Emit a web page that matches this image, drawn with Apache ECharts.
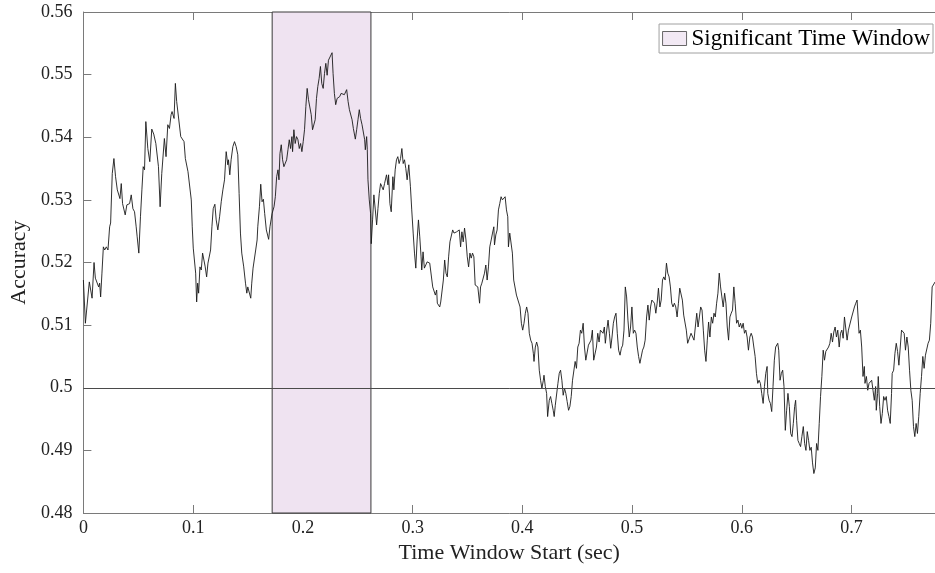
<!DOCTYPE html>
<html>
<head>
<meta charset="utf-8">
<script src="https://cdn.jsdelivr.net/npm/echarts@6/dist/echarts.min.js"></script>
<style>
html,body{margin:0;padding:0;background:#fff;}
#chart{width:935px;height:573px;}
</style>
</head>
<body>
<div id="chart"></div>
<script>
// Time window start (sec)
const timeSec = [
0.0000,0.0018,0.0036,0.0054,0.0067,0.0079,0.0097,0.0109,0.0127,0.0139,0.0148,0.0157,0.0169,0.0182,0.0194,0.0209,0.0224,0.0239,0.0248,0.0263,0.0278,0.0293,0.0309,0.0321,0.0333,0.0345,0.0357,0.0381,0.0396,0.0421,0.0436,0.0451,0.0466,0.0481,0.0490,0.0505,0.0520,0.0533,0.0545,0.0557,0.0569,0.0587,0.0605,0.0623,0.0641,0.0660,0.0672,0.0684,0.0699,0.0714,0.0726,0.0738,0.0753,0.0769,0.0784,0.0799,
0.0808,0.0826,0.0838,0.0850,0.0868,0.0887,0.0899,0.0917,0.0929,0.0941,0.0953,0.0971,0.0983,0.0992,0.1001,0.1014,0.1023,0.1032,0.1041,0.1050,0.1062,0.1074,0.1086,0.1098,0.1110,0.1123,0.1135,0.1147,0.1159,0.1171,0.1183,0.1198,0.1210,0.1225,0.1241,0.1256,0.1271,0.1286,0.1301,0.1316,0.1322,0.1334,0.1346,0.1362,0.1377,0.1392,0.1407,0.1419,0.1431,0.1443,0.1461,0.1477,0.1489,0.1498,0.1510,0.1525,0.1534,0.1546,0.1558,0.1570,0.1583,0.1589,
0.1604,0.1616,0.1628,0.1640,0.1652,0.1667,0.1676,0.1688,0.1700,0.1719,0.1737,0.1749,0.1761,0.1773,0.1782,0.1791,0.1803,0.1815,0.1827,0.1840,0.1852,0.1864,0.1876,0.1888,0.1900,0.1906,0.1918,0.1930,0.1942,0.1955,0.1967,0.1979,0.1991,0.2003,0.2015,0.2027,0.2039,0.2051,0.2064,0.2076,0.2088,0.2100,0.2112,0.2124,0.2136,0.2148,0.2160,0.2172,0.2185,0.2197,0.2209,0.2221,0.2233,0.2251,0.2266,0.2275,0.2287,0.2299,0.2312,0.2324,0.2336,0.2348,0.2366,0.2378,
0.2399,0.2412,0.2424,0.2436,0.2448,0.2460,0.2466,0.2478,0.2490,0.2502,0.2514,0.2526,0.2539,0.2551,0.2563,0.2569,0.2581,0.2587,0.2593,0.2605,0.2617,0.2623,0.2635,0.2647,0.2660,0.2672,0.2684,0.2696,0.2708,0.2720,0.2732,0.2744,0.2762,0.2775,0.2781,0.2793,0.2805,0.2820,0.2829,0.2841,0.2853,0.2865,0.2877,0.2890,0.2902,0.2914,0.2926,0.2938,0.2950,0.2965,0.2980,0.2992,0.3005,0.3017,0.3029,0.3041,0.3053,0.3065,0.3077,0.3083,0.3095,0.3107,0.3120,0.3132,0.3144,0.3156,0.3168,
0.3183,0.3195,0.3207,0.3219,0.3225,0.3237,0.3247,0.3256,0.3268,0.3280,0.3292,0.3304,0.3316,0.3328,0.3340,0.3352,0.3365,0.3377,0.3389,0.3401,0.3413,0.3425,0.3437,0.3449,0.3461,0.3473,0.3486,0.3498,0.3510,0.3522,0.3534,0.3546,0.3558,0.3570,0.3582,0.3594,0.3610,0.3619,0.3631,0.3643,0.3655,0.3667,0.3679,0.3691,0.3703,0.3716,0.3728,0.3740,0.3746,0.3758,0.3770,0.3782,0.3794,0.3806,0.3818,0.3831,0.3843,0.3855,0.3867,0.3873,0.3885,0.3897,0.3909,0.3921,0.3933,0.3946,0.3958,
0.3979,0.3991,0.4003,0.4015,0.4027,0.4039,0.4051,0.4063,0.4076,0.4088,0.4100,0.4106,0.4118,0.4130,0.4142,0.4154,0.4166,0.4178,0.4191,0.4197,0.4209,0.4221,0.4230,0.4245,0.4257,0.4269,0.4281,0.4290,0.4300,0.4312,0.4324,0.4336,0.4348,0.4360,0.4372,0.4384,0.4396,0.4408,0.4421,0.4433,0.4445,0.4457,0.4469,0.4481,0.4493,0.4505,0.4517,0.4529,0.4541,0.4554,0.4566,0.4578,0.4590,0.4602,0.4614,0.4626,0.4638,0.4650,0.4662,0.4675,0.4687,0.4699,0.4711,0.4723,0.4735,0.4747,
0.4756,0.4769,0.4781,0.4793,0.4805,0.4817,0.4829,0.4841,0.4853,0.4865,0.4877,0.4890,0.4902,0.4914,0.4926,0.4938,0.4950,0.4962,0.4974,0.4986,0.4998,0.5011,0.5023,0.5035,0.5047,0.5059,0.5071,0.5083,0.5095,0.5107,0.5119,0.5132,0.5144,0.5156,0.5168,0.5180,0.5192,0.5204,0.5216,0.5228,0.5240,0.5253,0.5265,0.5277,0.5289,0.5301,0.5313,0.5325,0.5337,0.5349,0.5361,0.5373,0.5385,0.5398,0.5410,0.5422,0.5434,0.5446,0.5458,0.5470,0.5482,0.5494,0.5506,0.5519,0.5537,
0.5546,0.5564,0.5576,0.5589,0.5601,0.5613,0.5625,0.5637,0.5649,0.5661,0.5673,0.5685,0.5697,0.5709,0.5722,0.5734,0.5746,0.5758,0.5770,0.5782,0.5794,0.5806,0.5818,0.5830,0.5843,0.5855,0.5867,0.5879,0.5891,0.5903,0.5915,0.5927,0.5939,0.5952,0.5964,0.5976,0.5988,0.6000,0.6012,0.6024,0.6036,0.6048,0.6060,0.6073,0.6085,0.6097,0.6109,0.6121,0.6133,0.6145,0.6157,0.6169,0.6181,0.6194,0.6206,0.6218,0.6230,0.6236,0.6248,0.6260,0.6272,0.6284,0.6296,0.6308,0.6327,
0.6336,0.6348,0.6360,0.6372,0.6384,0.6396,0.6408,0.6420,0.6433,0.6445,0.6457,0.6469,0.6481,0.6490,0.6499,0.6511,0.6523,0.6535,0.6547,0.6560,0.6572,0.6584,0.6596,0.6608,0.6620,0.6632,0.6644,0.6656,0.6669,0.6681,0.6693,0.6705,0.6717,0.6729,0.6741,0.6753,0.6765,0.6778,0.6790,0.6802,0.6814,0.6826,0.6838,0.6850,0.6862,0.6874,0.6887,0.6899,0.6911,0.6923,0.6935,0.6947,0.6959,0.6971,0.6983,
0.7001,0.7013,0.7026,0.7038,0.7050,0.7059,0.7068,0.7080,0.7092,0.7104,0.7116,0.7122,0.7135,0.7147,0.7159,0.7171,0.7183,0.7195,0.7207,0.7219,0.7225,0.7237,0.7243,0.7256,0.7268,0.7280,0.7292,0.7304,0.7316,0.7328,0.7340,0.7352,0.7364,0.7370,0.7383,0.7395,0.7407,0.7419,0.7431,0.7443,0.7455,0.7467,0.7479,0.7491,0.7504,0.7516,0.7528,0.7540,0.7552,0.7564,0.7576,0.7588,0.7600,0.7612,0.7625,0.7637,0.7649,0.7661,0.7673,0.7685,0.7697,0.7709,0.7721,0.7734,0.7746,0.7761
];
// Decoding accuracy
const accuracy = [
0.5172,0.5103,0.5100,0.5169,0.5172,0.5143,0.5200,0.5175,0.5177,0.5161,0.5167,0.5145,0.5183,0.5225,0.5220,0.5225,0.5220,0.5257,0.5263,0.5342,0.5366,0.5337,0.5316,0.5313,0.5302,0.5326,0.5294,0.5276,0.5292,0.5294,0.5308,0.5286,0.5281,0.5257,0.5241,0.5215,0.5273,0.5316,0.5353,0.5348,0.5425,0.5382,0.5361,0.5413,0.5405,0.5390,0.5393,0.5353,0.5289,0.5342,0.5342,0.5398,0.5369,0.5420,0.5414,0.5436,
0.5441,0.5430,0.5486,0.5457,0.5460,0.5401,0.5404,0.5393,0.5366,0.5364,0.5345,0.5342,0.5300,0.5257,0.5223,0.5220,0.5183,0.5137,0.5167,0.5151,0.5193,0.5188,0.5215,0.5215,0.5193,0.5177,0.5199,0.5201,0.5220,0.5257,0.5286,0.5293,0.5268,0.5252,0.5273,0.5297,0.5316,0.5332,0.5377,0.5356,0.5364,0.5340,0.5364,0.5385,0.5393,0.5385,0.5372,0.5310,0.5247,0.5215,0.5193,0.5167,0.5151,0.5161,0.5159,0.5143,0.5167,0.5191,0.5193,0.5220,0.5236,0.5257,
0.5289,0.5325,0.5297,0.5301,0.5278,0.5252,0.5249,0.5237,0.5257,0.5278,0.5289,0.5305,0.5337,0.5348,0.5332,0.5374,0.5388,0.5364,0.5353,0.5350,0.5364,0.5380,0.5396,0.5382,0.5401,0.5377,0.5412,0.5390,0.5401,0.5396,0.5382,0.5390,0.5377,0.5393,0.5412,0.5449,0.5478,0.5460,0.5462,0.5436,0.5412,0.5412,0.5428,0.5462,0.5481,0.5494,0.5513,0.5486,0.5478,0.5502,0.5518,0.5499,0.5523,0.5521,0.5535,0.5502,0.5470,0.5452,0.5462,0.5460,0.5465,0.5470,0.5470,0.5468,
0.5476,0.5457,0.5444,0.5443,0.5428,0.5414,0.5412,0.5397,0.5412,0.5428,0.5444,0.5430,0.5420,0.5417,0.5396,0.5380,0.5401,0.5380,0.5332,0.5300,0.5278,0.5230,0.5268,0.5308,0.5284,0.5260,0.5286,0.5310,0.5326,0.5321,0.5316,0.5326,0.5340,0.5324,0.5340,0.5294,0.5281,0.5337,0.5316,0.5348,0.5364,0.5369,0.5358,0.5366,0.5382,0.5358,0.5364,0.5350,0.5332,0.5356,0.5321,0.5284,0.5247,0.5215,0.5191,0.5236,0.5268,0.5241,0.5209,0.5188,0.5217,0.5191,0.5196,0.5201,0.5199,0.5199,0.5201,
0.5161,0.5159,0.5148,0.5156,0.5135,0.5137,0.5129,0.5137,0.5140,0.5172,0.5204,0.5183,0.5177,0.5209,0.5233,0.5236,0.5252,0.5247,0.5247,0.5249,0.5247,0.5252,0.5225,0.5249,0.5233,0.5255,0.5236,0.5209,0.5193,0.5215,0.5207,0.5215,0.5209,0.5164,0.5167,0.5161,0.5135,0.5161,0.5167,0.5164,0.5183,0.5196,0.5172,0.5193,0.5225,0.5236,0.5247,0.5257,0.5228,0.5244,0.5252,0.5284,0.5294,0.5305,0.5300,0.5302,0.5305,0.5284,0.5273,0.5225,0.5247,0.5247,0.5215,0.5172,0.5169,0.5148,0.5145,
0.5129,0.5103,0.5092,0.5103,0.5119,0.5129,0.5119,0.5087,0.5076,0.5071,0.5055,0.5042,0.5065,0.5073,0.5065,0.5028,0.5012,0.4999,0.5012,0.5020,0.5002,0.4991,0.4954,0.4980,0.4986,0.4975,0.4964,0.4954,0.4972,0.4975,0.5007,0.5023,0.5028,0.5012,0.4988,0.4999,0.4991,0.4978,0.4964,0.4970,0.4986,0.5012,0.5015,0.5042,0.5031,0.5065,0.5071,0.5092,0.5087,0.5103,0.5065,0.5044,0.5042,0.5068,0.5065,0.5076,0.5092,0.5044,0.5042,0.5065,0.5087,0.5073,0.5092,0.5095,0.5087,0.5097,
0.5071,0.5092,0.5108,0.5087,0.5063,0.5081,0.5103,0.5113,0.5119,0.5087,0.5060,0.5052,0.5063,0.5068,0.5092,0.5161,0.5145,0.5108,0.5081,0.5097,0.5129,0.5087,0.5092,0.5087,0.5065,0.5050,0.5039,0.5039,0.5060,0.5065,0.5076,0.5113,0.5132,0.5108,0.5129,0.5140,0.5143,0.5135,0.5119,0.5135,0.5159,0.5129,0.5140,0.5172,0.5177,0.5172,0.5199,0.5183,0.5177,0.5161,0.5135,0.5129,0.5135,0.5129,0.5113,0.5135,0.5159,0.5161,0.5140,0.5116,0.5113,0.5092,0.5071,0.5073,0.5087,
0.5087,0.5076,0.5097,0.5119,0.5097,0.5113,0.5129,0.5124,0.5092,0.5060,0.5042,0.5076,0.5105,0.5081,0.5113,0.5103,0.5119,0.5113,0.5135,0.5151,0.5183,0.5161,0.5145,0.5129,0.5151,0.5135,0.5097,0.5076,0.5113,0.5119,0.5124,0.5161,0.5135,0.5103,0.5108,0.5097,0.5103,0.5095,0.5103,0.5087,0.5092,0.5081,0.5060,0.5081,0.5087,0.5081,0.5065,0.5050,0.5023,0.5007,0.5012,0.5007,0.4991,0.4975,0.5002,0.5023,0.5034,0.4991,0.4980,0.4975,0.4962,0.5002,0.5044,0.5065,0.5071,
0.5060,0.5012,0.5023,0.5028,0.5002,0.4932,0.4964,0.4991,0.4970,0.4927,0.4922,0.4943,0.4970,0.4980,0.4948,0.4916,0.4911,0.4906,0.4922,0.4938,0.4911,0.4900,0.4930,0.4916,0.4900,0.4905,0.4880,0.4863,0.4872,0.4911,0.4900,0.4943,0.4986,0.5018,0.5060,0.5044,0.5058,0.5055,0.5065,0.5071,0.5087,0.5073,0.5089,0.5097,0.5081,0.5092,0.5065,0.5087,0.5092,0.5079,0.5113,0.5113,0.5076,0.5092,0.5092,
0.5113,0.5116,0.5129,0.5135,0.5140,0.5113,0.5087,0.5092,0.5065,0.5018,0.5034,0.5007,0.5018,0.4996,0.5007,0.5007,0.5012,0.4996,0.4980,0.5002,0.4964,0.4991,0.5018,0.4970,0.4943,0.4959,0.4986,0.4980,0.4986,0.4964,0.4954,0.4943,0.4991,0.5023,0.5028,0.5055,0.5071,0.5058,0.5036,0.5039,0.5092,0.5092,0.5087,0.5060,0.5081,0.5065,0.5028,0.4996,0.4980,0.4938,0.4922,0.4943,0.4927,0.4954,0.4991,0.5018,0.5050,0.5031,0.5052,0.5050,0.5071,0.5076,0.5103,0.5161,0.5161,0.5169
];
const sigWindow = [0.172, 0.262];
const chanceLevel = 0.5;
const xTicks = [0, 0.1, 0.2, 0.3, 0.4, 0.5, 0.6, 0.7];
const yTicks = [0.48, 0.49, 0.5, 0.51, 0.52, 0.53, 0.54, 0.55, 0.56];

const FONT = '"Liberation Serif", "Times New Roman", serif';
const lineData = timeSec.map((t, i) => [t, accuracy[i]]);
const chart = echarts.init(document.getElementById('chart'), null, {renderer: 'canvas'});
const axisCol = '#7a7a7a';
chart.setOption({
  animation: false,
  backgroundColor: '#fff',
  grid: {left: 80, right: 0, top: 12, bottom: 60, containLabel: false},
  legend: {
    right: 2, top: 24,
    orient: 'horizontal',
    backgroundColor: '#fff',
    borderColor: '#a0a0a0', borderWidth: 1,
    padding: [3, 3, 3, 3],
    itemWidth: 24, itemHeight: 14, itemGap: 2,
    textStyle: {fontFamily: FONT, fontSize: 23, color: '#000'},
    data: [{name: 'Significant Time Window', icon: 'rect',
      itemStyle: {color: '#efe3f1', borderColor: '#444', borderWidth: 1}}]
  },
  xAxis: [{
    type: 'value', position: 'bottom',
    min: xTicks[0], max: 0.776, interval: 0.1,
    name: 'Time Window Start (sec)', nameLocation: 'middle', nameGap: 29,
    nameTextStyle: {fontFamily: FONT, fontSize: 22, color: '#222'},
    axisLine: {show: true, lineStyle: {color: axisCol, width: 1}},
    axisTick: {show: true, inside: true, length: 8, lineStyle: {color: axisCol}},
    axisLabel: {fontFamily: FONT, fontSize: 18, color: '#222', margin: 6, showMaxLabel: false,
      formatter: v => xTicks.some(t => Math.abs(t - v) < 1e-9) ? String(+v.toFixed(2)) : ''},
    splitLine: {show: false}
  }, {
    type: 'value', position: 'top',
    min: xTicks[0], max: 0.776, interval: 0.1,
    axisLine: {show: true, lineStyle: {color: axisCol, width: 1}},
    axisTick: {show: true, inside: true, length: 8, lineStyle: {color: axisCol}},
    axisLabel: {show: false},
    splitLine: {show: false}
  }],
  yAxis: [{
    type: 'value',
    min: yTicks[0], max: yTicks[yTicks.length - 1], interval: 0.01,
    name: 'Accuracy', nameLocation: 'middle', nameGap: 45, nameRotate: 90,
    nameTextStyle: {fontFamily: FONT, fontSize: 22, color: '#222'},
    axisLine: {show: true, lineStyle: {color: axisCol, width: 1}},
    axisTick: {show: true, inside: true, length: 8, lineStyle: {color: axisCol}},
    axisLabel: {fontFamily: FONT, fontSize: 18, color: '#222', margin: 11,
      formatter: v => String(+v.toFixed(2))},
    splitLine: {show: false}
  }],
  series: [{
    name: 'Significant Time Window',
    type: 'scatter',
    data: [],
    z: 1,
    itemStyle: {color: '#efe3f1', borderColor: '#444', borderWidth: 1},
    markArea: {
      silent: true,
      itemStyle: {color: '#efe3f1', borderColor: '#3a3a3a', borderWidth: 1},
      data: [[{xAxis: sigWindow[0]}, {xAxis: sigWindow[1]}]]
    }
  }, {
    name: 'Accuracy',
    type: 'line',
    data: lineData,
    z: 3,
    showSymbol: false,
    symbol: 'none',
    lineStyle: {color: '#1a1a1a', width: 0.9},
    markLine: {
      silent: true, symbol: 'none', label: {show: false},
      lineStyle: {color: '#4a4a4a', width: 1, type: 'solid'},
      data: [{yAxis: chanceLevel}]
    }
  }]
});
</script>
</body>
</html>
